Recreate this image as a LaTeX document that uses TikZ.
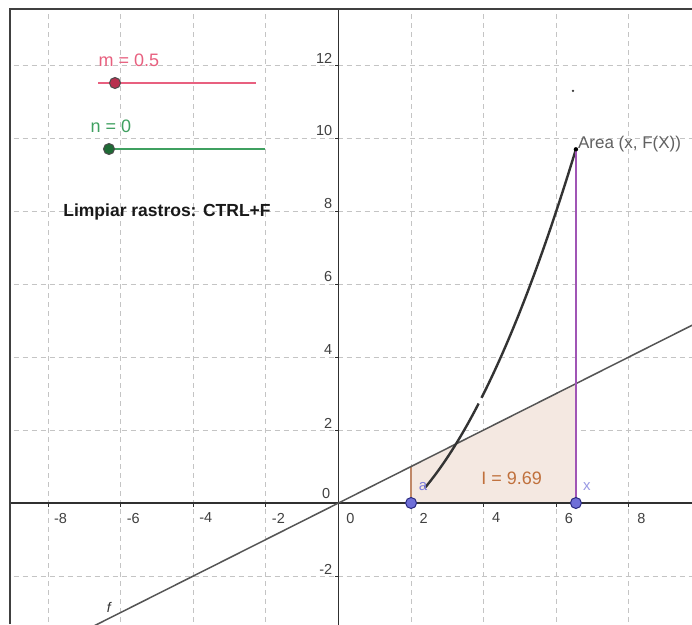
\documentclass[tikz,border=0pt]{standalone}
\usepackage{fontspec}
\setmainfont{Liberation Sans}
\definecolor{gridc}{HTML}{C4C4C4}
\definecolor{axisc}{HTML}{303030}
\definecolor{flinec}{HTML}{555555}
\definecolor{pinkc}{HTML}{E8607F}
\definecolor{pinkdot}{HTML}{B8304F}
\definecolor{greenc}{HTML}{3FA060}
\definecolor{greendot}{HTML}{1E6B35}
\definecolor{areafillc}{HTML}{F4E8E1}
\definecolor{areaedgec}{HTML}{C08868}
\definecolor{purplec}{HTML}{A055B5}
\definecolor{ptfill}{HTML}{6F6FD8}
\definecolor{ptdraw}{HTML}{2A2A80}
\definecolor{ilabelc}{HTML}{C0703C}
\definecolor{tracec}{HTML}{333333}
\tikzset{
  gridline/.style={gridc, line width=0.9pt, dash pattern=on 5pt off 4pt},
  axisline/.style={axisc, line width=1.3pt},
  tickmark/.style={axisc, line width=1pt},
  ticklab/.style={font=\fontsize{14.5}{16}\selectfont, text=black!75, inner sep=0pt},
  fline/.style={flinec, line width=1.5pt},
  trace/.style={tracec, line width=2.4pt},
  ptstyle/.style={circle, fill=ptfill, draw=ptdraw, line width=1pt, minimum size=11pt, inner sep=0pt},
  sliderline/.style={line width=1.3pt},
  knob/.style={circle, line width=1pt, minimum size=11pt, inner sep=0pt},
  frameline/.style={black!75, line width=1.6pt}
}
\begin{document}
\begin{tikzpicture}[x=1pt,y=-1pt]
\useasboundingbox (0,0) rectangle (692,624);
\fill[white] (0,0) rectangle (692,624);
\begin{scope}
\clip (10,9) rectangle (692,624);
\begin{scope}[shift={(338.5,503)},x=36.3pt,y=36.5pt]
  % grid
  \foreach \i in {-8,-6,-4,-2,2,4,6,8} \draw[gridline] (\i,-3.5) -- (\i,13.6);
  \foreach \j in {-2,2,4,6,8,10,12} \draw[gridline] (-9.2,\j) -- (9.8,\j);
  % area
  \coordinate (A0) at (2,0);
  \coordinate (A1) at (2,1);
  \coordinate (X0) at (6.54,0);
  \coordinate (X1) at (6.54,3.27);
  \fill[areafillc] (A0) -- (A1) -- (X1) -- (X0) -- cycle;
  \draw[areaedgec, line width=1.4pt] (X0) -- (A0) -- (A1);
  % axes
  \coordinate (xl) at (-9.3,0);
  \coordinate (xr) at (9.8,0);
  \coordinate (yb) at (0,-3.5);
  \coordinate (yt) at (0,13.6);
  \draw[axisline] (xl) -- (xr);
  \draw[axisline] (yb) -- (yt);
  \foreach \i in {-8,-6,-4,-2,2,4,6,8} {
    \draw[tickmark] (\i,0) -- ++(0pt,-4pt);
    \node[ticklab] (xt\i) at (\i,0) [xshift=12.5pt, yshift=-15pt] {\i};
  }
  \node[ticklab] (xt0) at (0,0) [xshift=12pt, yshift=-15pt] {0};
  \foreach \j in {-2,2,4,6,8,10,12} {
    \draw[tickmark] (0,\j) -- ++(-4pt,0pt);
    \node[ticklab, anchor=east] (yt\j) at (0,\j) [xshift=-6pt, yshift=7pt] {\j};
  }
  \node[ticklab, anchor=east] (yt0) at (0,0) [xshift=-8pt, yshift=10pt] {0};
  % line f
  \coordinate (fl) at (-9.4,-4.7);
  \coordinate (fr) at (9.9,4.95);
  \draw[fline] (fl) -- (fr);
  \node[font=\fontsize{14}{16}\selectfont\itshape, text=black!80] (flab) at (-6.33,-2.85) {f};
  % trace of area function
  \draw[trace] plot[domain=2.38:3.86, samples=40] (\x,{0.25*(\x*\x-4)});
  \draw[trace] plot[domain=3.94:6.54, samples=50] (\x,{0.25*(\x*\x-4)});
  \fill[tracec] (6.46,11.29) circle (1.3pt);
  % purple segment
  \coordinate (P) at (6.54,9.69);
  \draw[purplec, line width=1.5pt] (X0) -- (P);
  \fill[black] (P) circle (2.2pt);
  \node[anchor=west, font=\fontsize{17}{19}\selectfont, text=black!62, inner sep=0pt] (arealab) at (P) [xshift=2pt, yshift=5pt] {Area (x, F(X))};
  % points a and x
  \node[ptstyle] (pa) at (A0) {};
  \node[ptstyle] (px) at (X0) {};
  \node[font=\fontsize{15}{17}\selectfont, text=ptfill!90!white, inner sep=0pt] (alab) at (A0) [xshift=12pt, yshift=16pt] {a};
  \node[font=\fontsize{15}{17}\selectfont, text=ptfill!70!white, inner sep=0pt] (xlab) at (X0) [xshift=11pt, yshift=16pt] {x};
  \node[font=\fontsize{18}{20}\selectfont, text=ilabelc, inner sep=0pt] (ilab) at (4.77,0.69) {I = 9.69};
\end{scope}
\end{scope}
% frame
\coordinate (fr1) at (10,624);
\coordinate (fr2) at (10,9);
\coordinate (fr3) at (692,9);
\draw[frameline] (fr1) -- (fr2) -- (fr3);
% sliders
\coordinate (m1) at (98,83);
\coordinate (m2) at (256,83);
\draw[sliderline, pinkc] (m1) -- (m2);
\node[knob, fill=pinkdot, draw=black!70] (mknob) at (115,83) {};
\node[font=\fontsize{18}{20}\selectfont, text=pinkc, inner sep=0pt] (mlab) at (129,60) {m = 0.5};
\coordinate (n1) at (107,149);
\coordinate (n2) at (265,149);
\draw[sliderline, greenc] (n1) -- (n2);
\node[knob, fill=greendot, draw=black!70] (nknob) at (109,149) {};
\node[font=\fontsize{18}{20}\selectfont, text=greenc, inner sep=0pt] (nlab) at (111,126) {n = 0};
\node[font=\fontsize{17.5}{19}\selectfont\bfseries, text=black!90, inner sep=0pt] (limp) at (167,212) {Limpiar rastros: CTRL+F};
\end{tikzpicture}
\end{document}
